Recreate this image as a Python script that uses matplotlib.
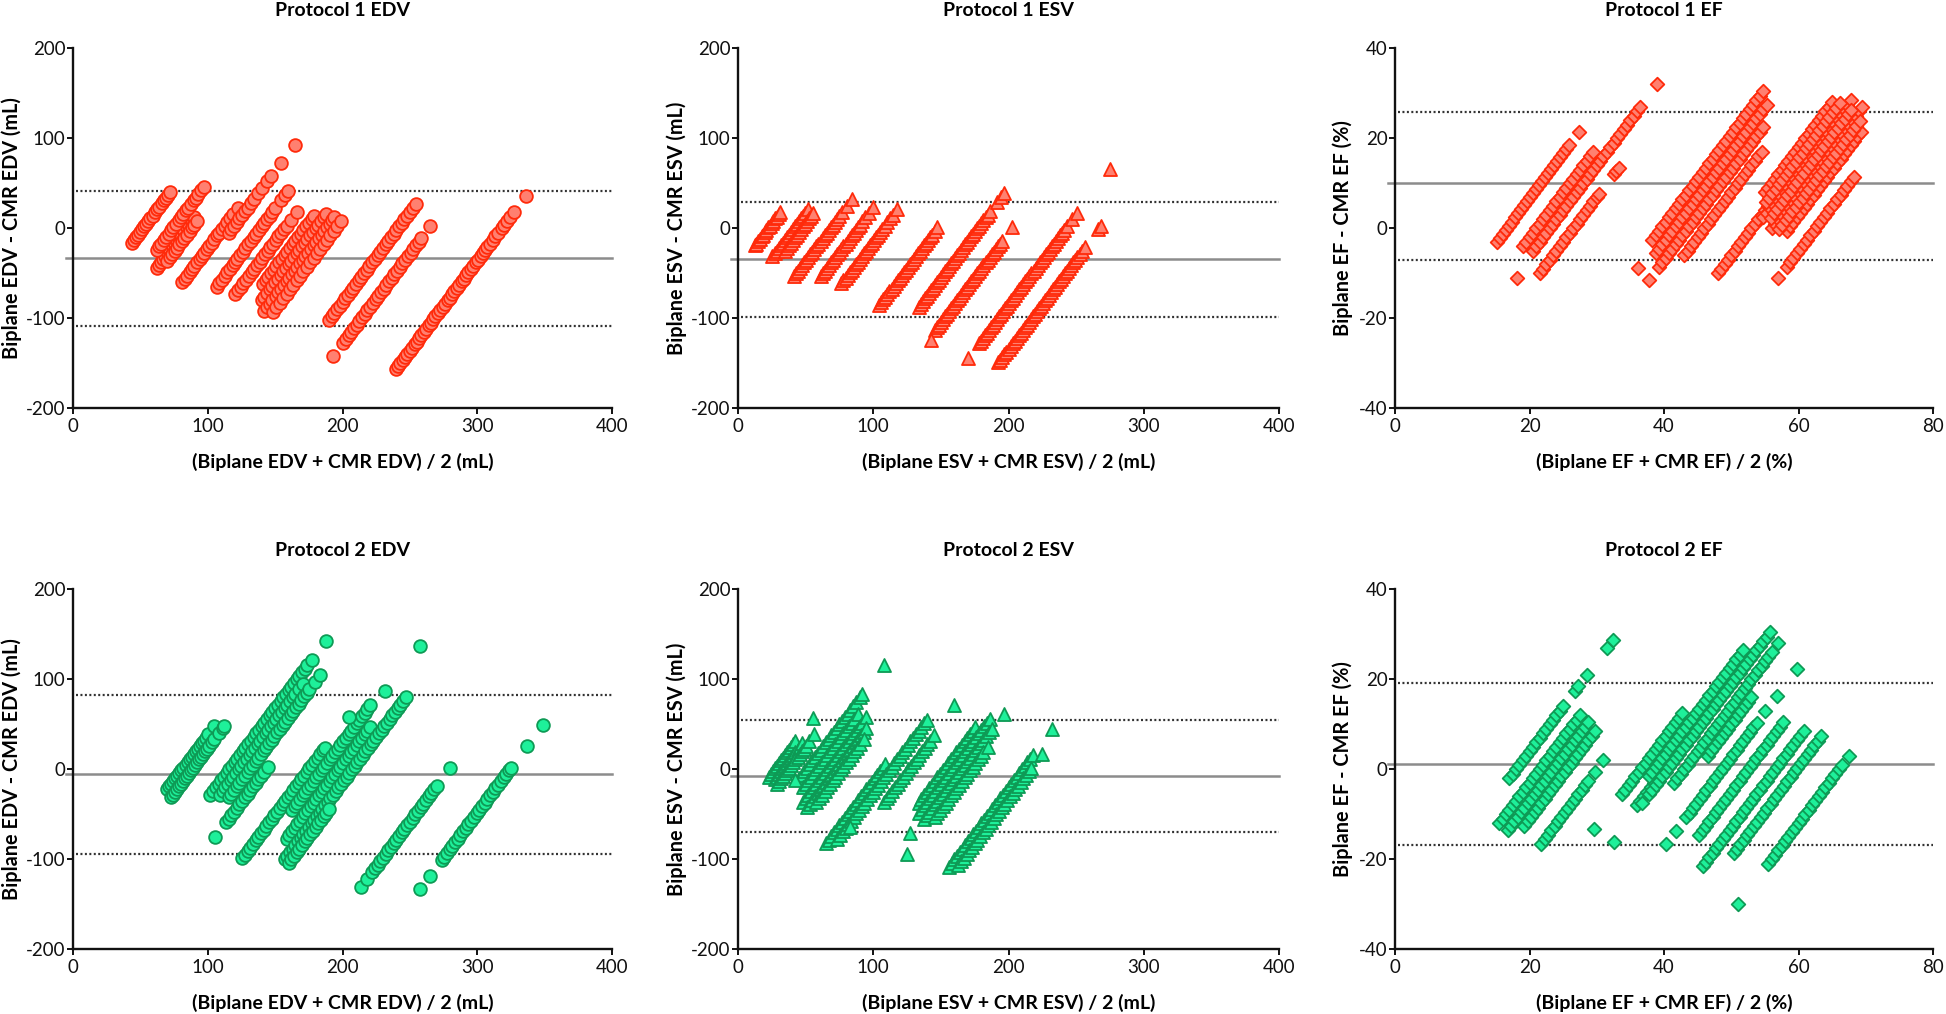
import matplotlib
matplotlib.use('Agg')
import matplotlib.pyplot as plt

plt.rcParams['font.family'] = ['Lato', 'DejaVu Sans']
plt.rcParams['axes.unicode_minus'] = False

# ---------------- data: each group = one CMR value with its biplane readings ----------------
# Protocol 1 EDV (mL)
P1_EDV_CMR = [52, 84, 74, 88, 111, 139, 118, 157, 172, 180, 188, 195, 241, 264, 318]
P1_EDV_BIPLANE = [
    [36, 39, 42, 45, 48, 51, 54, 57, 60, 63, 66, 70, 73, 76, 80, 83, 86, 89, 92],
    [40, 43, 47, 50, 53, 57, 60, 64, 67, 70, 74, 77, 81, 85, 88, 92, 96],
    [50, 54, 57, 61, 64, 68, 72, 75, 79, 83, 86, 90, 94, 97, 101, 105, 108, 112, 116, 120],
    [52, 56, 59, 63, 66, 70, 74, 77, 81, 85, 89, 92, 96],
    [51, 55, 58, 62, 66, 69, 73, 77, 80, 84, 88, 91, 95, 99, 103, 106, 110, 114, 118, 122, 127, 134],
    [74, 78, 82, 86, 90, 94, 98, 101, 105, 109, 113, 117, 121, 125, 129, 133, 137, 141, 145, 149, 153, 157, 161, 170, 176, 180],
    [113, 117, 121, 125, 129, 133, 137, 141, 146, 151, 157, 163, 170, 176, 190, 211],
    [84, 88, 92, 96, 100, 104, 108, 112, 116, 120, 124, 128, 132, 136, 140, 144, 148, 152, 156, 160, 166, 175],
    [110, 114, 118, 122, 126, 130, 134, 138, 142, 146, 150, 154, 158, 162, 166, 170, 174, 178, 182, 186],
    [100, 104, 108, 112, 116, 120, 124, 128, 132, 136, 140, 144, 148, 152, 156, 160, 164, 168, 172, 176, 180, 184, 188, 192, 196],
    [96, 100, 104, 108, 113, 117, 121, 125, 129, 133, 137, 141, 145, 149, 153, 157, 161, 165, 169, 173, 177, 181, 185, 189, 193, 197, 200],
    [102, 107, 112, 117, 122, 127, 132, 137, 142, 147, 152, 157, 162, 167, 172, 177, 182, 187, 192, 197, 203],
    [139, 143, 147, 151, 155, 159, 163, 167, 171, 175, 179, 183, 187, 191, 195, 199, 203, 207, 211, 215, 219, 223, 227, 231, 235, 239, 243, 247, 251, 255, 259, 263, 268],
    [122, 137, 141, 145, 149, 153, 157, 161, 165, 169, 173, 177, 181, 185, 189, 193, 197, 201, 205, 209, 213, 217, 221, 225, 229, 233, 237, 241, 245, 249, 253, 266],
    [162, 165, 168, 172, 175, 178, 182, 185, 189, 192, 196, 199, 203, 206, 210, 213, 217, 220, 224, 227, 231, 234, 238, 241, 245, 248, 252, 255, 259, 262, 266, 269, 273, 276, 280, 283, 287, 290, 294, 297, 301, 305, 309, 313, 318, 322, 326, 330, 336, 354],
]
P1_EDV_LINES = [-33.3, 41.5, -108.1]   # bias, upper LoA, lower LoA

# Protocol 1 ESV (mL)
P1_ESV_CMR = [22, 41, 47, 68, 88, 107, 147, 177, 202, 242, 267, 242, 205]
P1_ESV_BIPLANE = [
    [3, 5, 8, 10, 13, 15, 18, 20, 23, 25, 28, 30, 33, 35, 38, 40],
    [10, 13, 16, 19, 22, 25, 28, 31, 34, 37, 40, 43, 46, 49, 52, 55, 58, 62],
    [22, 25, 28, 31, 34, 37, 40, 43, 46, 49, 52, 55, 58, 61, 64],
    [15, 18, 21, 24, 27, 30, 33, 36, 39, 42, 45, 48, 51, 54, 57, 60, 63, 66, 69, 72, 75, 78, 82, 86, 93, 100],
    [35, 38, 41, 44, 47, 50, 53, 56, 59, 62, 65, 68, 71, 74, 77, 80, 83, 86, 89, 92, 96, 100, 105, 112],
    [46, 49, 52, 55, 58, 61, 64, 67, 70, 73, 76, 79, 82, 85, 88, 91, 94, 97, 100, 103, 106, 110, 114, 118, 122, 128],
    [62, 65, 68, 71, 74, 77, 80, 83, 86, 89, 92, 95, 98, 101, 104, 107, 110, 113, 116, 119, 122, 125, 128, 131, 134, 137, 140, 144, 148],
    [90, 93, 96, 99, 102, 105, 108, 111, 114, 117, 120, 123, 126, 129, 132, 135, 138, 141, 144, 147, 150, 153, 156, 159, 162, 165, 168, 171, 174, 177, 180, 183, 186, 189, 192, 196, 206, 212, 216],
    [89, 92, 95, 98, 101, 104, 107, 110, 113, 116, 119, 122, 125, 128, 131, 134, 137, 140, 143, 146, 149, 152, 155, 158, 161, 164, 167, 170, 173, 176, 179, 182, 185, 188, 203],
    [114, 117, 120, 123, 126, 129, 132, 135, 138, 141, 144, 147, 150, 153, 156, 159, 162, 165, 168, 171, 174, 177, 180, 183, 186, 189, 192, 195, 198, 201, 204, 207, 210, 213, 216, 219, 222, 225, 228, 231, 234, 237, 240, 244, 252, 259, 308],
    [118, 121, 124, 127, 130, 133, 136, 139, 142, 145, 148, 151, 154, 157, 160, 163, 166, 169, 172, 175, 178, 181, 184, 187, 190, 193, 196, 199, 202, 205, 208, 211, 214, 217, 220, 223, 226, 229, 232, 235, 238, 242, 246, 266, 270],
    [98],
    [81],
]
P1_ESV_LINES = [-34.1, 29.6, -99.0]

# Protocol 1 EF (%)
P1_EF_CMR = [16.6, 23, 21, 26.5, 23.7, 40.6, 39.5, 41.5, 43.5, 46, 53, 51, 53.5, 56, 58.5, 62.5, 52.2, 54.7, 57.2]
P1_EF_BIPLANE = [
    [13.6, 14.5, 15.4, 16.3, 17.2, 18.1, 19.0, 19.9, 20.8, 21.7, 22.6, 23.5, 24.4, 25.3, 26.2, 27.1, 28.0, 28.9, 29.8, 30.7, 31.6, 32.5, 33.4, 34.3, 35.0, 38.0],
    [18, 19, 20, 21, 22, 23, 24, 25, 26, 27, 28, 29, 30, 31, 32, 33, 34, 35, 36, 37, 38, 39, 40, 41, 42, 43, 44, 45, 46, 47, 48, 49, 50, 55],
    [17, 18, 19, 20, 21, 22, 23, 24, 25, 26, 27, 28, 29, 30, 31, 32, 33, 34, 35, 36, 37, 38],
    [16.5, 17.5, 18.5, 19.5, 20.5, 21.5, 22.5, 23.5, 24.5, 25.5, 26.5, 27.5, 28.5, 29.5, 30.5, 31.5, 32.5, 33.5, 34.2, 38.5, 39.3, 40],
    [12.6],
    [31.7],
    [37, 38, 39, 40, 41, 42, 43, 44, 45, 46, 47, 48, 49, 50, 51, 52, 53, 54, 55, 56, 57, 58, 59, 60, 61, 62, 63, 64, 65, 66, 67, 68, 69, 70],
    [36, 37, 38, 39, 40, 41, 42, 43, 44, 45, 46, 47, 48, 49, 50, 51, 52, 53, 54, 55, 56, 57, 58, 59, 60, 61, 62, 63, 64, 65, 66, 67, 68, 69],
    [32, 35, 36, 37, 38, 39, 40, 41, 42, 43, 44, 45, 46, 47, 48, 49, 50, 51, 52, 53, 54, 55, 56, 57, 58, 59, 60, 61, 62, 63, 64, 65, 66],
    [40, 41, 42, 43, 44, 45, 46, 47, 48, 49, 50, 51, 52, 53, 54, 55, 56, 57, 58, 59, 60, 61, 62, 63],
    [43, 44, 45, 46, 47, 48, 49, 50, 51, 52, 53, 54, 55, 56, 57, 58],
    [59, 60, 61, 62, 63, 64, 65, 66, 67, 68, 69, 70, 71, 72, 73, 74, 75, 76, 77, 78, 79],
    [56, 57, 58, 59, 60, 61, 62, 63, 64, 65, 66, 67, 68, 69, 70, 71, 72, 73, 74, 75, 76, 77, 78, 79, 80, 81, 82],
    [56, 57, 58, 59, 60, 61, 62, 63, 64, 65, 66, 67, 68, 69, 70, 71, 72, 73, 74, 75, 76, 77, 78, 79, 80, 81, 82, 83],
    [58, 59, 60, 61, 62, 63, 64, 65, 66, 67, 68, 69, 70, 71, 72, 73, 74, 75, 76, 77, 78, 79, 80],
    [51.4, 54, 55, 56, 57, 58, 59, 60, 61, 62, 63, 64, 65, 66, 67, 68, 69, 70, 71, 72, 73, 74],
    [58, 59, 60, 61, 62, 63, 64, 65, 66, 67, 68, 69, 70, 71, 72, 73, 74, 75, 76, 77, 78, 79, 80],
    [57, 58, 59, 60, 61, 62, 63, 64, 65, 66, 67, 68, 69, 70, 71, 72, 73, 74, 75, 76, 77, 78, 79, 80, 81],
    [57, 58, 59, 60, 61, 62, 63, 64, 65, 66, 67, 68, 69, 70, 71, 72, 73, 74, 75, 76, 77, 78, 79, 80, 81],
]
P1_EF_LINES = [10.0, 25.9, -7.0]

# Protocol 2 EDV (mL)
P2_EDV_CMR = [81, 88, 116, 123, 131, 143, 175, 185, 197, 207, 212, 188, 176, 189, 279, 324]
P2_EDV_BIPLANE = [
    [59, 62, 65, 68, 71, 74, 77, 80, 83, 86, 89, 92, 95, 98, 101, 104, 107, 110, 113, 116, 120, 129],
    [57, 60, 63, 66, 69, 72, 75, 78, 81, 84, 87, 90, 93, 96, 99, 102, 105, 108, 111, 114, 118, 122, 128, 134, 136],
    [88, 92, 96, 100, 104, 108, 112, 116, 120, 124, 128, 132, 136, 140, 144, 148, 152, 156, 160, 164, 168, 172, 176, 180, 184, 188, 192, 196, 200, 204, 208, 212, 216, 220, 224, 228, 232, 238, 259],
    [95, 99, 103, 107, 111, 115, 119, 123, 127, 131, 135, 139, 143, 147, 151, 155, 159, 163, 167, 171, 175, 179, 183, 187, 191, 195, 199, 203, 207, 212, 218],
    [100, 104, 108, 112, 116, 120, 124, 128, 132, 136, 140, 144, 148, 152, 156, 160, 164, 168, 172, 176, 180, 184, 188, 192, 196, 200, 204, 208, 212, 216, 220, 228, 236],
    [68, 84, 88, 92, 96, 100, 104, 108, 112, 116, 120, 124, 128, 132, 136, 140, 146],
    [76, 80, 84, 88, 92, 96, 100, 104, 108, 112, 116, 120, 124, 128, 132, 136, 140, 144, 148, 152, 156, 160, 164, 168, 172, 176, 180, 184, 188, 192, 196, 199],
    [140, 144, 148, 152, 156, 160, 164, 168, 172, 176, 180, 184, 188, 192, 196, 200, 204, 208, 212, 216, 220, 224, 228, 232, 236, 240, 244, 248, 252, 256],
    [120, 124, 128, 132, 136, 140, 144, 148, 152, 156, 160, 164, 168, 172, 176, 180, 184, 188, 192, 196, 200, 204, 208, 212, 216, 220, 224, 228, 232, 236, 240, 244],
    [107, 111, 115, 119, 123, 127, 131, 135, 139, 143, 147, 151, 155, 159, 163, 167, 171, 175, 179, 183, 187, 191, 195, 199, 203, 207, 211, 215, 219, 223, 227, 231, 235, 239, 243, 247, 251, 255, 259, 263, 267, 271, 275, 279, 283, 287],
    [108, 112, 116, 120, 124, 128, 132, 136, 140, 144, 148, 152, 156, 160, 164, 168],
    [275],
    [234],
    [326],
    [148, 157, 165, 169, 173, 177, 181, 185, 189, 193, 197, 201, 205, 209, 213, 217, 221, 225, 229, 233, 237, 241, 245, 249, 253, 257, 261, 281],
    [191, 206, 223, 227, 231, 235, 239, 243, 247, 251, 255, 259, 263, 267, 271, 275, 279, 283, 287, 291, 295, 299, 303, 307, 311, 315, 319, 323, 326, 350, 373],
]
P2_EDV_LINES = [-5.2, 82.6, -94.3]

# Protocol 2 ESV (mL)
P2_ESV_CMR = [27, 33, 37, 50, 58, 66, 72, 76, 106, 112, 126, 152, 158, 165, 172, 210, 216, 48, 115, 172, 163, 124, 166]
P2_ESV_BIPLANE = [
    [19, 22, 25, 28, 31, 34, 37, 40, 43, 46, 49, 52, 55, 58, 84],
    [22, 25, 28, 31, 34, 37, 40, 43, 46, 49, 52, 55, 58, 62],
    [21, 24, 27, 30, 33, 36, 39, 42, 45, 48, 51, 54, 57, 60, 63, 68, 76],
    [40, 44, 48, 52, 56, 60, 64, 68, 72, 76, 80, 84, 88, 92, 96, 100, 104, 108, 112, 116, 120, 125, 130, 134, 166],
    [38, 42, 46, 50, 54, 58, 62, 66, 70, 74, 78, 82, 86, 90, 94, 98, 102, 106, 110, 114, 120],
    [30, 34, 38, 42, 46, 50, 54, 58, 62, 66, 70, 74, 78, 82, 86, 90, 94, 98, 102, 106, 110, 114, 118, 124],
    [30, 34, 38, 42, 46, 50, 54, 58, 62, 66, 70, 74, 78, 82, 86, 90, 94, 98, 102, 106, 110, 114, 118],
    [40, 44, 48, 52, 56, 60, 64, 68, 72, 76, 80, 84, 88, 92, 96, 100, 104, 110],
    [24, 28, 32, 36, 40, 44, 48, 52, 56, 60, 64, 68, 72, 76, 80, 84, 88, 92, 96, 100, 104, 108, 112],
    [35, 39, 43, 47, 51, 55, 59, 63, 67, 71, 75, 79, 83, 87, 91, 95, 99, 103, 107, 111, 115, 119, 123, 127, 131, 135, 139, 143, 147, 151, 155, 159, 163, 167],
    [90, 94, 98, 102, 106, 110, 114, 118, 122, 126, 130, 134, 138, 142, 146, 150, 154, 158, 164],
    [115, 119, 123, 127, 131, 135, 139, 143, 147, 151, 155, 159, 163, 167, 171, 175, 179, 183, 187, 191, 195, 199],
    [110, 114, 118, 122, 126, 130, 134, 138, 142, 146, 150, 154, 158, 162, 166, 170, 174, 178, 182, 186, 190, 194, 198, 202, 206, 210, 214],
    [110, 114, 118, 122, 126, 130, 134, 138, 142, 146, 150, 154, 158, 162, 166, 170, 174, 178, 182, 186, 190, 194, 198, 202, 206, 210],
    [119, 123, 127, 131, 135, 139, 143, 147, 151, 155, 159, 163, 167, 171, 175, 179, 183, 187, 191, 197],
    [102, 106, 110, 114, 118, 122, 126, 130, 134, 138, 142, 146, 150, 154, 158, 162, 166, 170, 174, 178, 182, 186, 190, 194, 198, 202, 206, 210, 214, 218, 222, 226, 255],
    [110, 114, 118, 122, 126, 130, 134, 138, 142, 146, 150, 154, 158, 162, 166, 170, 174, 178, 182, 186, 190, 194, 198, 202, 206, 210, 214, 218, 233],
    [36],
    [51],
    [78],
    [92],
    [196],
    [228],
]
P2_ESV_LINES = [-7.1, 54.8, -69.3]

# Protocol 2 EF (%)
P2_EF_CMR = [18, 21.5, 23.5, 25.5, 30, 36.3, 40.6, 36.5, 40, 38.5, 40.5, 43, 45, 48.6, 52.5, 56.5, 59.7, 66]
P2_EF_BIPLANE = [
    [16, 17, 18, 19, 20, 21, 22, 23, 24, 25, 26, 27, 28, 29, 30, 31, 32, 35.5, 36.5, 39, 45, 46.7],
    [9.5, 10.5, 11.5, 12.5, 13.5, 14.5, 15.5, 16.5, 17.5, 18.5, 19.5, 20.5, 21.5, 22.5, 23.5, 24.5, 25.5, 26.5, 27.5, 28.5, 29.5, 30.5, 31.5, 32.5, 33.5],
    [10, 11, 12, 13, 14, 15, 16, 17, 18, 19, 20, 21, 22, 23, 24, 25, 26, 27, 28, 29, 30, 31, 32, 33, 34],
    [13, 14, 15, 16, 17, 18, 19, 20, 21, 22, 23, 24, 25, 26, 27, 28, 29, 30, 31, 32, 33, 34],
    [13.5, 14.5, 15.5, 16.5, 17.5, 18.5, 19.5, 20.5, 21.5, 22.5, 23.5, 24.5, 25.5, 26.5, 27.5, 29.5, 32],
    [23],
    [24.5],
    [31, 32, 33, 34, 35, 36, 37, 38, 39, 40, 41, 42, 43, 44, 45, 46, 47, 48, 49],
    [32, 33, 34, 35, 36, 37, 38, 39, 40, 41, 42, 43, 44, 45, 46, 47, 48],
    [37, 38, 39, 40, 41, 42, 43, 44, 45, 46, 47, 48, 49, 50, 51, 52, 53, 54, 55, 56, 57, 58, 59, 60, 61, 62, 63, 64, 65],
    [33, 35, 36, 37, 38, 39, 40, 41, 42, 43, 44, 45, 46, 47, 48, 49, 50, 51, 52, 53, 54, 55, 56, 57, 58, 59, 60, 61, 62, 63, 64, 65, 66, 67, 68, 69, 70, 71],
    [40, 41, 42, 43, 44, 45, 46, 47, 48, 49, 50, 51, 52, 53, 54, 55, 56, 57, 58, 59, 60, 61, 62, 63, 64, 65, 66, 67, 68, 69, 71],
    [48, 49, 50, 51, 52, 53, 54, 55, 56, 57, 58, 59, 60, 61],
    [32, 35, 38, 39, 40, 41, 42, 43, 44, 45, 46, 47, 48, 49, 50, 51, 52, 53, 54, 55, 56, 57, 58, 59, 61.5, 65, 71],
    [38, 39, 40, 41, 42, 43, 44, 45, 46, 47, 48, 49, 50, 51, 52, 53, 54, 55, 56, 57, 58, 59, 60, 61, 62, 63],
    [35, 36, 37, 38, 39, 40, 41, 42, 43, 44, 45, 46, 47, 48, 49, 50, 51, 52, 53, 54, 55, 56, 57, 58, 59, 60, 61, 62, 63, 64, 65],
    [41, 42, 43, 44, 45, 46, 47, 48, 49, 50, 51, 52, 53, 54, 55, 56, 57, 58, 59, 60, 61, 62, 63, 64, 65, 66, 67],
    [36, 45, 46, 47, 48, 49, 50, 51, 52, 53, 54, 55, 56, 57, 58, 59, 60, 61, 62, 63, 64, 65, 66, 67, 69],
]
P2_EF_LINES = [1.2, 19.1, -16.8]

TITLES = ["Protocol 1 EDV", "Protocol 1 ESV", "Protocol 1 EF",
          "Protocol 2 EDV", "Protocol 2 ESV", "Protocol 2 EF"]
XLABELS = ["(Biplane EDV + CMR EDV) / 2 (mL)", "(Biplane ESV + CMR ESV) / 2 (mL)", "(Biplane EF + CMR EF) / 2 (%)"]
YLABELS = ["Biplane EDV - CMR EDV (mL)", "Biplane ESV - CMR ESV (mL)", "Biplane EF - CMR EF (%)"]
VOL_XTICKS = [0, 100, 200, 300, 400]
VOL_YTICKS = [-200, -100, 0, 100, 200]
EF_XTICKS = [0, 20, 40, 60, 80]
EF_YTICKS = [-40, -20, 0, 20, 40]

# ---------------- styling ----------------
RED_FACE, RED_EDGE = '#FF8070', '#FF2A0A'
GREEN_FACE, GREEN_EDGE = '#1EF09A', '#0E9A55'

W, H = 1946, 1014
fig = plt.figure(figsize=(W / 100, H / 100), dpi=100)

COLS = [(73, 539), (738, 541), (1395, 538)]   # left px, width px
ROWS = [48.3, 589.3]                          # top px
AX_H = 360
YLAB_OFF = [61.4, 61.0, 52.0]

panels = [
    (P1_EDV_CMR, P1_EDV_BIPLANE, P1_EDV_LINES),
    (P1_ESV_CMR, P1_ESV_BIPLANE, P1_ESV_LINES),
    (P1_EF_CMR, P1_EF_BIPLANE, P1_EF_LINES),
    (P2_EDV_CMR, P2_EDV_BIPLANE, P2_EDV_LINES),
    (P2_ESV_CMR, P2_ESV_BIPLANE, P2_ESV_LINES),
    (P2_EF_CMR, P2_EF_BIPLANE, P2_EF_LINES),
]
markers = [('o', 84), ('^', 88), ('D', 48)]

for i, (cmr, bip, lines) in enumerate(panels):
    r, c = divmod(i, 3)
    left, width = COLS[c]
    top = ROWS[r]
    ax = fig.add_axes([left / W, 1 - (top + AX_H) / H, width / W, AX_H / H])

    means, diffs = [], []
    for cv, blist in zip(cmr, bip):
        for b in blist:
            means.append((b + cv) / 2.0)
            diffs.append(b - cv)

    face, edge = (RED_FACE, RED_EDGE) if r == 0 else (GREEN_FACE, GREEN_EDGE)
    mk, sz = markers[c]

    bias, upper, lower = lines
    ax.axhline(bias, xmin=-0.013, xmax=1, color='#8C8C8C', lw=1.8, zorder=1, clip_on=False)
    for v in (upper, lower):
        ax.axhline(v, xmin=0.006, xmax=1, color='#333333', lw=1.6,
                   linestyle=(0, (0.9, 1.1)), zorder=1)

    ax.scatter(means, diffs, s=sz, marker=mk, facecolor=face, edgecolor=edge,
               linewidths=1.3, zorder=3)

    if c < 2:
        xt, yt = VOL_XTICKS, VOL_YTICKS
    else:
        xt, yt = EF_XTICKS, EF_YTICKS
    ax.set_xlim(xt[0], xt[-1])
    ax.set_ylim(yt[0], yt[-1])
    ax.set_xticks(xt)
    ax.set_yticks(yt)
    ax.set_xticklabels([str(v) for v in xt])
    ax.set_yticklabels([str(v) for v in yt])

    for s in ('top', 'right'):
        ax.spines[s].set_visible(False)
    for s in ('left', 'bottom'):
        ax.spines[s].set_linewidth(1.7)
        ax.spines[s].set_color('#111111')
    ax.tick_params(axis='both', direction='out', length=4, width=1.4,
                   labelsize=13.5, colors='#111111', pad=1.5)
    ax.tick_params(axis='x', pad=3)

    ax.text(0.5, 1 + 38.3 / AX_H, TITLES[i], transform=ax.transAxes,
            ha='center', va='center', fontsize=14, fontweight='bold')
    ax.text(0.5, -53.4 / AX_H, XLABELS[c], transform=ax.transAxes,
            ha='center', va='center', fontsize=14, fontweight='bold')
    ax.text(-YLAB_OFF[c] / width, 0.5, YLABELS[c], transform=ax.transAxes,
            ha='center', va='center', rotation=90, fontsize=14.3, fontweight='bold')

fig.savefig('out.png', dpi=100)
